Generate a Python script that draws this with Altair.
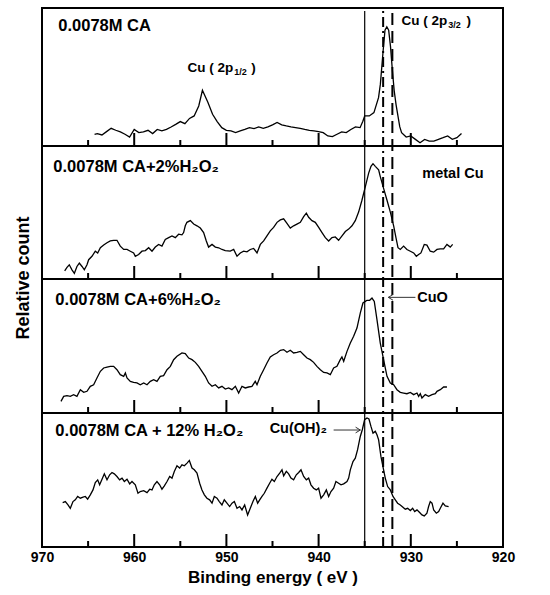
import altair as alt
import pandas as pd

# ---------------- data ----------------
# Binding energy (eV) and relative count (percent of panel height) for each spectrum
E1 = [964.3, 964.0, 963.5, 963.0, 962.5, 962.0, 961.5, 961.0, 960.5, 960.0,
      959.5, 959.0, 958.5, 958.0, 957.5, 957.0, 956.5, 956.0, 955.5, 955.0,
      954.5, 954.0, 953.5, 953.0, 952.6, 952.0, 951.5, 951.0, 950.5, 950.0,
      949.5, 949.0, 948.5, 948.0, 947.5, 947.0, 946.5, 946.0, 945.5, 945.0,
      944.5, 944.0, 943.5, 943.0, 942.5, 942.0, 941.5, 941.0, 940.5, 940.0,
      939.5, 939.0, 938.5, 938.0, 937.5, 937.0, 936.5, 936.0, 935.5, 935.2,
      935.0, 934.5, 934.0, 933.5, 933.3, 933.0, 932.8, 932.6, 932.4, 932.2,
      932.0, 931.8, 931.6, 931.4, 931.2, 931.0, 930.5, 930.0, 929.5, 929.0,
      928.5, 928.0, 927.5, 927.0, 926.5, 926.0, 925.5, 925.0, 924.5]
V1 = [8.5, 9, 8, 10.4, 12.8, 11.4, 10.2, 8.5, 6.5, 12,
      9.7, 10.2, 11.4, 9, 12, 11, 12, 13.8, 15.7, 17.7,
      16.2, 20, 21.8, 29, 40.4, 31.5, 23, 17.7, 13.3, 11.4,
      10.9, 9.7, 10.9, 12, 13.3, 12.6, 13.8, 12.8, 13.8, 15.3,
      17, 15.3, 14.5, 13.8, 13.3, 12.8, 12, 11.4, 10.9, 10.4,
      9.7, 7.3, 6.8, 8.5, 10.2, 9.7, 12, 13.8, 13.3, 18,
      21.8, 21.8, 24.2, 35, 44.8, 69, 84, 86.4, 84, 72,
      55, 40, 30, 22, 14, 9.7, 6.5, 7.3, 4.8, 2.4,
      4.8, 3.6, 3.6, 4.8, 6, 7.3, 4.8, 6, 9]

E2 = [967.54, 967.29, 967.04, 966.75, 966.49, 966.21, 965.95, 965.66, 965.41, 965.12,
      964.94, 964.58, 964.22, 963.96, 963.67, 963.31, 962.95, 962.59, 962.23, 961.87,
      961.51, 961.14, 960.78, 960.42, 960.06, 959.88, 959.52, 959.16, 958.79, 958.43,
      958.07, 957.71, 957.35, 956.99, 956.63, 956.26, 955.90, 955.54, 955.18, 954.82,
      954.64, 954.46, 954.28, 953.91, 953.55, 953.19, 952.83, 952.47, 952.18, 951.93,
      951.56, 951.20, 950.84, 950.48, 950.12, 949.58, 949.21, 948.85, 948.49, 948.13,
      947.77, 947.41, 947.05, 946.68, 946.32, 945.96, 945.60, 945.24, 944.88, 944.51,
      944.15, 943.79, 943.43, 943.07, 942.71, 942.35, 941.98, 941.62, 941.33, 941.08,
      940.72, 940.36, 939.99, 939.63, 939.27, 938.91, 938.55, 938.19, 937.83, 937.46,
      937.10, 936.74, 936.38, 936.02, 935.66, 935.30, 934.93, 934.57, 934.32, 934.10,
      933.85, 933.49, 933.31, 932.95, 932.58, 932.22, 931.86, 931.61, 931.39, 931.14,
      930.78, 930.42, 930.05, 929.69, 929.40, 929.15, 928.90, 928.54, 928.25, 927.89,
      927.52, 927.16, 926.80, 926.44, 926.08, 925.72, 925.46]
V2 = [6.1, 8.7, 10.7, 6.9, 4.3, 9.4, 12, 9.4, 6.9, 10.7,
      14.5, 17.1, 20.9, 19.6, 23.5, 25.5, 27.3, 28.6, 29.1, 29.1,
      24.7, 22.2, 22.2, 20.9, 19.6, 17.1, 18.4, 20.9, 21.4, 23.5,
      20.9, 24, 26, 24.7, 29.8, 31.1, 32.4, 31.1, 33.7, 33.2,
      34.9, 40, 42.6, 43.9, 41.3, 40, 38.3, 34.9, 28.6, 24,
      26, 24, 23.5, 22.2, 21.4, 20.9, 22.2, 17.1, 19.6, 20.9,
      20.4, 22.2, 23, 19.6, 26, 28.6, 32.4, 36.2, 38.8, 42.6,
      44.4, 45.2, 41.8, 38.3, 40, 41.3, 42.6, 46.9, 49.5, 46.4,
      43.9, 42.6, 38.8, 34.9, 31.1, 28.6, 31.1, 31.6, 29.1, 32.4,
      35.7, 37.5, 40, 43.9, 50.3, 59.2, 69.4, 79.6, 84.7, 86.7,
      84.7, 82.1, 77, 68.1, 59.2, 50.3, 40, 31.1, 23.5, 22.2,
      24.7, 22.2, 20.9, 19.6, 17.1, 18.4, 19.6, 26, 25.5, 20.9,
      20.2, 22.2, 22.7, 22.7, 26, 24, 26]

E3 = [967.94, 967.65, 967.29, 966.93, 966.57, 966.21, 965.84, 965.48, 965.12, 964.76,
      964.40, 964.04, 963.67, 963.31, 962.95, 962.59, 962.23, 961.87, 961.51, 961.14,
      960.96, 960.78, 960.42, 960.06, 959.70, 959.34, 958.97, 958.61, 958.25, 957.89,
      957.53, 957.17, 956.81, 956.44, 956.08, 955.72, 955.36, 954.82, 954.46, 954.09,
      953.73, 953.37, 953.01, 952.65, 952.29, 951.93, 951.56, 951.20, 950.84, 950.48,
      950.12, 949.76, 949.40, 949.03, 948.67, 948.31, 947.95, 947.59, 947.23, 946.87,
      946.68, 946.32, 945.96, 945.60, 945.24, 944.88, 944.51, 944.15, 943.79, 943.43,
      943.07, 942.71, 942.35, 941.98, 941.62, 941.26, 940.90, 940.54, 940.18, 939.81,
      939.45, 939.09, 938.73, 938.37, 938.01, 937.65, 937.47, 937.28, 936.92, 936.56,
      936.20, 935.84, 935.48, 935.19, 934.93, 934.75, 934.46, 934.21, 933.96, 933.67,
      933.31, 932.95, 932.77, 932.58, 932.22, 931.86, 931.50, 931.14, 930.78, 930.42,
      930.05, 929.69, 929.33, 929.15, 928.97, 928.79, 928.43, 928.07, 927.70, 927.34,
      927.16, 926.80, 926.44, 926.08]
V3 = [8.7, 12.4, 12.9, 12.4, 13.7, 12.4, 17.4, 15.4, 16.2, 19.9,
      21.1, 26.1, 31.1, 33.6, 34.3, 34.8, 34.8, 32.3, 28.6, 27.4,
      29.9, 26.1, 23.6, 22.9, 22.4, 21.1, 22.4, 21.1, 23.6, 24.9,
      23.6, 27.4, 27.9, 32.3, 34.8, 39.8, 42.3, 44.8, 44.3, 41,
      39.8, 37.8, 34.8, 31.1, 27.4, 22.4, 19.9, 21.1, 18.7, 19.9,
      17.9, 18.7, 17.4, 19.9, 14.9, 19.9, 18.7, 19.4, 19.9, 23.6,
      21.1, 27.4, 32.3, 37.3, 41.8, 43.5, 44.8, 46.8, 47.3, 45.3,
      46.8, 44.8, 45.3, 46, 43.5, 41, 39.8, 37.8, 34.8, 32.3,
      30.3, 29.9, 28.6, 33.6, 34.8, 39.8, 41.8, 38.6, 46, 52.2,
      57.2, 63.4, 74.6, 82.1, 83.3, 84.1, 84.1, 85.8, 83.3, 69.7,
      52.2, 39.8, 33.6, 27.4, 22.4, 21.1, 17.4, 15.4, 14.9, 14.4,
      15.4, 13.7, 14.9, 12.4, 14.4, 11.2, 13.7, 12.4, 13.7, 14.4,
      16.2, 17.4, 19.4, 19.4]

E4 = [967.76, 967.47, 967.18, 966.93, 966.64, 966.39, 966.13, 965.84, 965.55, 965.30,
      965.05, 964.76, 964.47, 964.22, 963.96, 963.75, 963.49, 963.24, 962.95, 962.66,
      962.41, 962.16, 961.87, 961.58, 961.32, 961.07, 960.78, 960.49, 960.24, 959.88,
      959.59, 959.34, 958.97, 958.61, 958.32, 958.07, 957.82, 957.53, 957.24, 956.99,
      956.73, 956.44, 956.15, 955.90, 955.65, 955.36, 955.07, 954.82, 954.56, 954.27,
      954.02, 953.73, 953.48, 953.19, 952.90, 952.65, 952.39, 952.11, 951.82, 951.56,
      951.31, 951.02, 950.77, 950.48, 950.23, 949.94, 949.65, 949.39, 949.14, 948.85,
      948.56, 948.31, 948.02, 947.70, 947.41, 947.12, 946.86, 946.61, 946.39, 946.14,
      945.89, 945.60, 945.31, 945.06, 944.80, 944.51, 944.22, 943.97, 943.79, 943.50,
      943.25, 943.00, 942.71, 942.42, 942.16, 941.91, 941.62, 941.33, 941.08, 940.83,
      940.54, 940.25, 940.00, 939.74, 939.45, 939.16, 938.91, 938.66, 938.37, 938.12,
      937.83, 937.57, 937.28, 936.92, 936.74, 936.56, 936.27, 936.02, 935.77, 935.48,
      935.26, 935.01, 934.75, 934.54, 934.32, 934.10, 933.85, 933.67, 933.49, 933.24,
      932.95, 932.77, 932.51, 932.22, 931.93, 931.68, 931.43, 931.14, 930.85, 930.60,
      930.34, 930.05, 929.80, 929.58, 929.33, 929.04, 928.79, 928.54, 928.25, 928.07,
      927.89, 927.70, 927.52, 927.23, 926.98, 926.80, 926.51, 926.26, 925.90]
V4 = [33.2, 33.9, 31.4, 28.9, 33.9, 35.2, 37.7, 36.4, 37.2, 37.7,
      35.7, 38.9, 42.6, 48.1, 50.1, 46.4, 50.6, 54.6, 50.1, 53.9,
      55.6, 54.6, 52.6, 50.1, 51.4, 48.9, 50.6, 47.1, 48.9, 46.4,
      40.1, 41.4, 42.1, 40.6, 43.1, 42.6, 46.4, 48.9, 46.4, 43.1,
      45.6, 48.9, 52.6, 51.4, 56.4, 60.6, 58.9, 61.3, 60.6, 62.6,
      64.6, 58.9, 57.6, 55.1, 47.6, 42.6, 38.9, 36.4, 35.2, 32.7,
      37.7, 36.4, 33.9, 31.4, 35.2, 32.7, 30.2, 32.7, 33.9, 28.9,
      30.2, 27.7, 31.4, 23.9, 28.9, 33.9, 37.7, 32.7, 35.2, 37.7,
      40.1, 43.9, 47.6, 50.6, 48.9, 52.6, 55.1, 57.6, 53.1, 56.4,
      54.6, 51.4, 50.1, 53.9, 55.6, 57.6, 52.6, 50.1, 51.4, 46.4,
      43.9, 42.6, 43.9, 36.4, 38.9, 42.6, 37.7, 41.4, 43.9, 48.9,
      47.6, 46.4, 47.1, 48.9, 51.4, 57.6, 63.8, 66.3, 72.6, 82.5,
      87.5, 95, 96.3, 95.5, 90, 85, 86.3, 83.8, 80, 67.6,
      57.6, 51.4, 45.1, 42.6, 37.7, 35.2, 32.7, 31.4, 29.7, 28.2,
      28.9, 27.2, 28.9, 26.4, 27.7, 25.7, 23.9, 23.2, 25.2, 30.2,
      33.9, 32.7, 27.7, 25.2, 26.4, 28.9, 32.7, 30.7, 30.2]

# panel order from bottom (0) to top (3)
SAMPLES = ["0.0078M CA + 12% H₂O₂", "0.0078M CA+6%H₂O₂", "0.0078M CA+2%H₂O₂", "0.0078M CA"]
SERIES = [(E4, V4), (E3, V3), (E2, V2), (E1, V1)]

# sample-label anchor (energy, panel units)
LABEL_E = [968.55, 968.55, 968.77, 968.23]
LABEL_Y = [0.828, 1.806, 2.805, 3.833]

MAJOR_TICKS = [970, 960, 950, 940, 930, 920]
MINOR_TICKS = [965, 955, 945, 935, 925]
X_LABELS = [970, 960, 950, 940, 930, 920]

REF_SOLID = [935.0]    # Cu(OH)2
REF_DASHDOT = [933.0]  # CuO
REF_DASH = [932.0]     # metal Cu

FONT = "Liberation Sans"

# ---------------- tables ----------------
rows = []
for k, (ee, vv) in enumerate(SERIES):
    d = pd.DataFrame({"E": ee, "v": vv})
    d["y"] = k + d["v"] / 100.0
    d["panel"] = SAMPLES[k]
    rows.append(d)
curves = pd.concat(rows, ignore_index=True)

labels = pd.DataFrame({"E": LABEL_E, "y": LABEL_Y, "text": SAMPLES})

seps = pd.DataFrame({"y": [1, 2, 3], "E": [970] * 3, "E2": [920] * 3})
major = pd.DataFrame([{"E": t, "y": k} for k in range(4) for t in MAJOR_TICKS])
minor = pd.DataFrame([{"E": t, "y": k} for k in range(4) for t in MINOR_TICKS])

peak_main = pd.DataFrame({"E": [949.25, 926.04], "y": [3.538, 3.877], "text": ["Cu ( 2p", "Cu ( 2p"]})
peak_sub = pd.DataFrame({"E": [949.25, 926.04], "y": [3.538, 3.877], "text": ["1/2", "3/2"]})
peak_close = pd.DataFrame({"E": [947.3, 923.97], "y": [3.538, 3.877], "text": [")", ")"]})
species = pd.DataFrame({"E": [928.75, 929.3, 945.31], "y": [2.759, 1.828, 0.849],
                        "text": ["metal Cu", "CuO", "Cu(OH)₂"]})
arrows = pd.DataFrame({"E": [929.5, 938.37], "E2": [932.44, 935.47], "y": [1.863, 0.873]})
head_left = pd.DataFrame({"E": [932.44], "y": [1.863]})
head_right = pd.DataFrame({"E": [935.47], "y": [0.873]})

# ---------------- scales ----------------
xs = alt.Scale(domain=[920, 970], reverse=True, nice=False, zero=False)
ys = alt.Scale(domain=[0, 1, 2, 3, 4], range=[539, 405, 271, 138, 0], nice=False, zero=False)

xaxis = alt.Axis(values=X_LABELS, format="d", ticks=False, domain=False, grid=False,
                 labelFont=FONT, labelFontSize=14, labelFontWeight="bold", labelColor="black",
                 labelPadding=3, labelFlush=False, labelOverlap=False,
                 title="Binding energy ( eV )", titleFont=FONT, titleFontSize=17,
                 titleFontWeight="bold", titleColor="black", titlePadding=5)
yaxis = alt.Axis(labels=False, ticks=False, domain=False, grid=False,
                 title="Relative count", titleFont=FONT, titleFontSize=18,
                 titleFontWeight="bold", titleColor="black", titlePadding=10)

X = alt.X("E:Q", scale=xs, axis=xaxis)
Y = alt.Y("y:Q", scale=ys, axis=yaxis)

line = alt.Chart(curves).mark_line(color="black", strokeWidth=1.3).encode(
    x=X, y=Y, detail="panel:N", order="E:Q")

sep = alt.Chart(seps).mark_rule(color="black", strokeWidth=2).encode(x="E:Q", x2="E2:Q", y="y:Q")

tmaj = alt.Chart(major).mark_rule(color="black", strokeWidth=2, y2Offset=-13).encode(
    x="E:Q", y="y:Q", y2="y:Q")
tmin = alt.Chart(minor).mark_rule(color="black", strokeWidth=2, y2Offset=-6).encode(
    x="E:Q", y="y:Q", y2="y:Q")

def vline(vals, dash, width):
    kw = {"strokeDash": dash} if dash else {}
    return alt.Chart(pd.DataFrame({"E": vals})).mark_rule(
        color="black", strokeWidth=width, y2Offset=3, **kw).encode(
        x="E:Q", y=alt.datum(0), y2=alt.datum(4))

v1 = vline(REF_SOLID, None, 1.2)
v2 = vline(REF_DASHDOT, [10, 4, 2, 4], 2)
v3 = vline(REF_DASH, [12, 6], 2)

lab = alt.Chart(labels).mark_text(font=FONT, fontSize=16.5, fontWeight="bold", align="left",
                                  baseline="alphabetic", color="black").encode(
    x="E:Q", y="y:Q", text="text:N")

pm = alt.Chart(peak_main).mark_text(font=FONT, fontSize=13.5, fontWeight="bold", align="right",
                                    baseline="alphabetic", color="black").encode(
    x="E:Q", y="y:Q", text="text:N")
ps = alt.Chart(peak_sub).mark_text(font=FONT, fontSize=9, fontWeight="bold", align="left",
                                   baseline="alphabetic", dy=3, dx=1, color="black").encode(
    x="E:Q", y="y:Q", text="text:N")
pc = alt.Chart(peak_close).mark_text(font=FONT, fontSize=13.5, fontWeight="bold", align="left",
                                     baseline="alphabetic", color="black").encode(
    x="E:Q", y="y:Q", text="text:N")
sp = alt.Chart(species).mark_text(font=FONT, fontSize=14.5, fontWeight="bold", align="left",
                                  baseline="alphabetic", color="black").encode(
    x="E:Q", y="y:Q", text="text:N")

arr = alt.Chart(arrows).mark_rule(color="#333333", strokeWidth=1).encode(x="E:Q", x2="E2:Q", y="y:Q")
hl = alt.Chart(head_left).mark_point(shape="M 1 -0.6 L 0 0 L 1 0.6", size=90, filled=False,
                                     color="#333333", strokeWidth=1, opacity=1).encode(x="E:Q", y="y:Q")
hr = alt.Chart(head_right).mark_point(shape="M -1 -0.6 L 0 0 L -1 0.6", size=90, filled=False,
                                      color="#333333", strokeWidth=1, opacity=1).encode(x="E:Q", y="y:Q")

chart = alt.layer(line, sep, tmaj, tmin, v1, v2, v3, lab, pm, ps, pc, sp, arr, hl, hr).properties(
    width=461, height=539,
    autosize=alt.AutoSizeParams(type="none"),
    padding={"left": 42, "top": 8, "right": 47, "bottom": 48},
    background="white",
).configure_view(stroke="black", strokeWidth=2)

chart.save("out.html", embed_options={"renderer": "svg", "actions": False})
